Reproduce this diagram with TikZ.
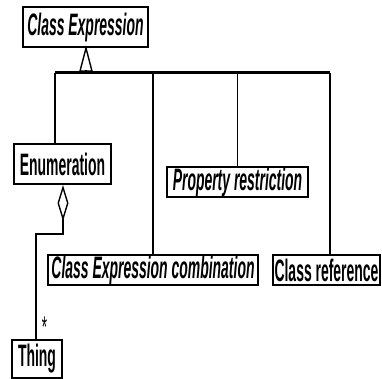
\documentclass[tikz,border=0pt]{standalone}
\usepackage{fontspec}
\setmainfont{Liberation Sans}[FakeStretch=0.45]
\usetikzlibrary{arrows.meta}
\begin{document}
\begin{tikzpicture}[x=1pt,y=-1pt,
  cls/.style={draw,line width=2.2pt,fill=white,inner sep=0pt,font=\fontsize{31}{31}\selectfont\bfseries},
  abstract/.style={cls,font=\fontsize{31}{31}\selectfont\bfseries\itshape},
  link/.style={line width=1.4pt},
  busbar/.style={line width=3pt}]
\useasboundingbox (0,0) rectangle (382,379);

% classes
\node[abstract,minimum width=125pt,minimum height=40pt] (cexpr) at (85.5,27) {Class Expression};
\node[cls,minimum width=97pt,minimum height=40pt] (enum) at (62.5,164) {Enumeration};
\node[abstract,minimum width=141pt,minimum height=30pt] (prop) at (237.5,182) {Property restriction};
\node[abstract,minimum width=210pt,minimum height=30pt] (comb) at (153,270) {Class Expression combination};
\node[cls,minimum width=107pt,minimum height=30pt] (cref) at (326.5,270) {Class reference};
\node[cls,minimum width=50pt,minimum height=38pt] (thing) at (37,359) {Thing};

% generalization tree
\coordinate (hub) at (86,73);
\coordinate (tribase) at (86,70);
\coordinate (busL) at (55,73);
\coordinate (busR) at (330,73);
\draw[link,line join=miter] (cexpr.south -| hub) -- ++(-6,23) -- ++(12,0) -- cycle;
\draw[link] (tribase) -- (hub);
\draw[busbar] (busL) -- (busR);
\draw[link] (busL) -- (busL |- enum.north);
\draw[link] (comb.north |- hub) -- (comb.north);
\draw[link] (prop.north |- hub) -- (prop.north);
\draw[link] (busR) -- (busR |- cref.north);

% aggregation
\coordinate (aggx) at (63,0);
\coordinate (bend) at (36,234);
\draw[link,-{Diamond[open,length=36pt,width=11pt,line width=1.4pt]}]
  (thing.north -| bend) -- (bend) -- (bend -| aggx) -- (aggx |- enum.south);
\node[font=\fontsize{30}{30}\selectfont,inner sep=0pt,anchor=base] (mult) at (44.5,337.5) {*};
\end{tikzpicture}
\end{document}
